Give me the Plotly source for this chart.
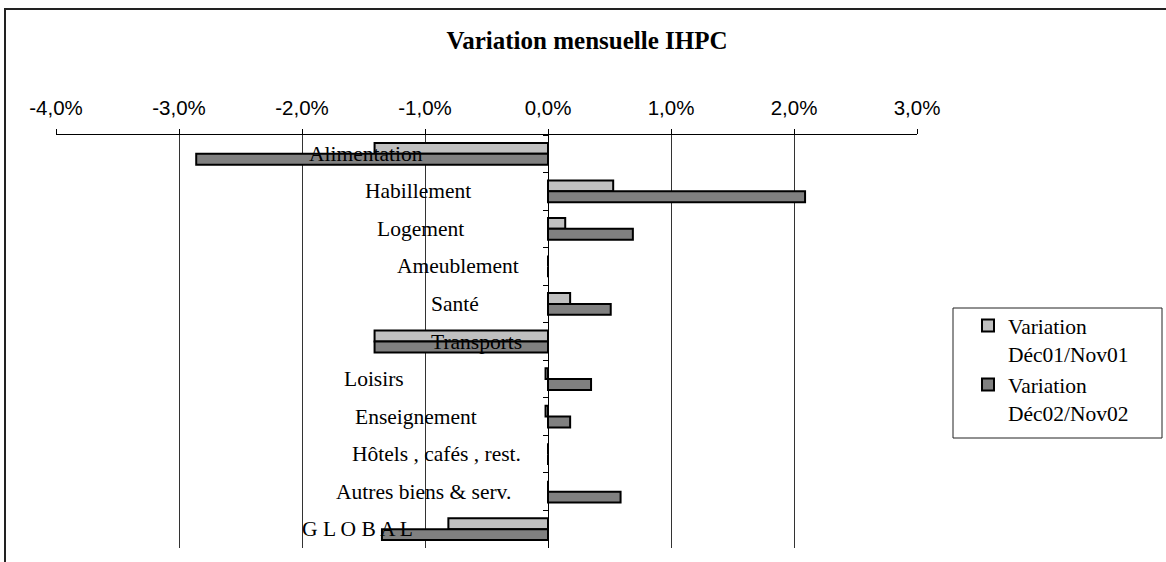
import plotly.graph_objects as go

# ---------------- data ----------------
categories = ["Alimentation", "Habillement", "Logement", "Ameublement", "Santé",
              "Transports", "Loisirs", "Enseignement", "Hôtels , cafés , rest.",
              "Autres biens & serv.", "G L O B A L"]
var_dec01 = [-1.41, 0.53, 0.14, 0.0, 0.18, -1.41, -0.02, -0.02, 0.0, 0.0, -0.81]
var_dec02 = [-2.86, 2.09, 0.69, 0.0, 0.51, -1.41, 0.35, 0.18, 0.0, 0.59, -1.35]
series_names = ["Variation<br>Déc01/Nov01", "Variation<br>Déc02/Nov02"]
tick_vals = [-4, -3, -2, -1, 0, 1, 2, 3]
tick_text = ["-4,0%", "-3,0%", "-2,0%", "-1,0%", "0,0%", "1,0%", "2,0%", "3,0%"]
title_text = "Variation mensuelle IHPC"

# ---------------- layout helpers (positions / styles) ----------------
W, H = 1166, 562
L, R, T, B = 56, 249, 135, 14
PW, PH = W - L - R, H - T - B
XMIN, XMAX = -4, 3
# category label centres along the value axis (label placement)
label_x = [-1.483, -1.060, -1.033, -0.735, -0.755, -0.580, -1.418, -1.076, -0.906, -1.011, -1.548]

def px_x(p):   # screen px -> paper
    return (p - L) / PW

def px_y(p):
    return (H - B - p) / PH

SERIF = "Liberation Serif, Times New Roman, serif"
SANS = "Liberation Sans, Arial, sans-serif"
fills = ["#C0C0C0", "#808080"]

fig = go.Figure()
for vals, name, col in zip([var_dec01, var_dec02], series_names, fills):
    fig.add_trace(go.Bar(
        y=categories, x=vals, orientation="h", name=name,
        legendgroup=name,
        marker=dict(color=col, line=dict(color="black", width=2)),
    ))

n = len(categories)
boundaries = [i - 0.5 for i in range(n + 1)]
zero_pos = (0 - XMIN) / (XMAX - XMIN)

annotations = []
for cat, lx in zip(categories, label_x):
    annotations.append(dict(
        x=lx, y=cat, xref="x", yref="y", text=cat, showarrow=False,
        xanchor="center", yanchor="middle",
        font=dict(family=SERIF, size=21.5, color="black"),
    ))

shapes = [
    # chart-area border (top & left visible)
    dict(type="rect", xref="paper", yref="paper",
         x0=px_x(5), x1=px_x(1190), y0=px_y(590), y1=px_y(9),
         line=dict(color="#222222", width=2), fillcolor="rgba(0,0,0,0)", layer="below"),
    # legend box
    dict(type="rect", xref="paper", yref="paper",
         x0=px_x(953), x1=px_x(1162), y0=px_y(438), y1=px_y(308),
         line=dict(color="#222222", width=1), fillcolor="rgba(0,0,0,0)"),
]

fig.update_layout(
    width=W, height=H,
    margin=dict(l=L, r=R, t=T, b=B, autoexpand=False),
    paper_bgcolor="white", plot_bgcolor="white",
    barmode="group", bargap=0.42, bargroupgap=0,
    title=dict(text="<b>" + title_text + "</b>", xref="container", yref="container",
               x=587 / W, y=1 - 40 / H, xanchor="center", yanchor="middle",
               font=dict(family=SERIF, size=25, color="black")),
    showlegend=True,
    legend=dict(x=px_x(968), y=px_y(305), xanchor="left", yanchor="top",
                traceorder="normal", valign="top", tracegroupgap=14,
                bgcolor="rgba(0,0,0,0)", borderwidth=0,
                font=dict(family=SERIF, size=21.5, color="black")),
    xaxis=dict(range=[XMIN, XMAX], side="top", tickmode="array",
               tickvals=tick_vals, ticktext=tick_text,
               ticks="outside", ticklen=5, tickcolor="black", tickwidth=1,
               showline=True, linecolor="black", linewidth=1,
               showgrid=True, gridcolor="#333333", gridwidth=1,
               zeroline=False, ticklabelstandoff=6,
               tickfont=dict(family=SANS, size=20.5, color="black")),
    yaxis=dict(type="category", categoryorder="array", categoryarray=categories,
               range=[n - 0.5, -0.5], anchor="free", position=zero_pos,
               showline=True, linecolor="black", linewidth=1,
               ticks="outside", ticklen=5, tickcolor="black", tickson="boundaries",
               showticklabels=False, showgrid=False, zeroline=False),
    yaxis2=dict(overlaying="y", anchor="free", position=zero_pos, side="right",
                range=[n - 0.5, -0.5], tickmode="array", tickvals=boundaries,
                ticks="outside", ticklen=5, tickcolor="black",
                showticklabels=False, showgrid=False, zeroline=False, showline=False),
    annotations=annotations,
    shapes=shapes,
)

fig.write_html("out.html", config={"displayModeBar": False},
               post_script="document.body.style.margin='0';")
